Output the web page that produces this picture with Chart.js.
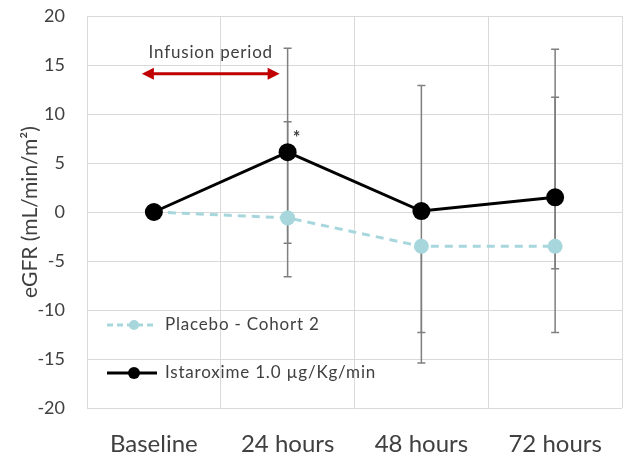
<!DOCTYPE html>
<html>
<head>
<meta charset="utf-8">
<script src="https://cdn.jsdelivr.net/npm/chart.js@4.4.1/dist/chart.umd.min.js"></script>
<style>
  html, body { margin: 0; padding: 0; background: #fff; }
  #wrap { width: 631px; height: 462px; }
</style>
</head>
<body>
<div id="wrap"><canvas id="egfr"></canvas></div>
<script>
const timepoints = ["Baseline", "24 hours", "48 hours", "72 hours"];

// mean change in eGFR
const placeboMean = [0, -0.6, -3.5, -3.5];
const istaroximeMean = [0, 6.1, 0.1, 1.5];

// error bar ends (null = no cap drawn on that side)
const placeboHigh = [null, 9.2, null, 11.7];
const placeboLow = [null, -6.6, -15.4, -5.8];
const istaroximeHigh = [null, 16.7, 12.9, 16.6];
const istaroximeLow = [null, -3.2, -12.3, -12.3];

const yTicks = { min: -20, max: 20, step: 5 };

const textColor = "#404040";
const placeboColor = "#a7d7dc";
const fontFamily = "Lato, 'Open Sans', sans-serif";

// whiskers drawn under the lines so the markers sit on top
const errorBars = {
  id: "errorBars",
  beforeDatasetsDraw(chart) {
    const { ctx, scales: { x, y } } = chart;
    const sets = [
      { hi: placeboHigh, lo: placeboLow, mean: placeboMean },
      { hi: istaroximeHigh, lo: istaroximeLow, mean: istaroximeMean },
    ];
    ctx.save();
    ctx.strokeStyle = "#7f7f7f";
    ctx.lineWidth = 1.5;
    sets.forEach((s) => {
      s.mean.forEach((m, i) => {
        const px = x.getPixelForValue(i);
        const py = y.getPixelForValue(m);
        [s.hi[i], s.lo[i]].forEach((v) => {
          if (v === null) return;
          const vy = y.getPixelForValue(v);
          ctx.beginPath();
          ctx.moveTo(px, py);
          ctx.lineTo(px, vy);
          ctx.moveTo(px - 4, vy);
          ctx.lineTo(px + 4, vy);
          ctx.stroke();
        });
      });
    });
    ctx.restore();
  },
};

// infusion arrow, asterisk and the in-plot legend
const extras = {
  id: "extras",
  afterDraw(chart) {
    const { ctx, scales: { x, y } } = chart;
    ctx.save();

    // infusion period double arrow
    const ay = y.getPixelForValue(14.1);
    const ax0 = x.getPixelForValue(0) - 12;
    const ax1 = x.getPixelForValue(1) - 8;
    ctx.strokeStyle = "#c00000";
    ctx.fillStyle = "#c00000";
    ctx.lineWidth = 3;
    ctx.beginPath();
    ctx.moveTo(ax0 + 8, ay);
    ctx.lineTo(ax1 - 8, ay);
    ctx.stroke();
    ctx.beginPath();
    ctx.moveTo(ax0, ay);
    ctx.lineTo(ax0 + 12, ay - 6);
    ctx.lineTo(ax0 + 12, ay + 6);
    ctx.closePath();
    ctx.fill();
    ctx.beginPath();
    ctx.moveTo(ax1, ay);
    ctx.lineTo(ax1 - 12, ay - 6);
    ctx.lineTo(ax1 - 12, ay + 6);
    ctx.closePath();
    ctx.fill();

    ctx.fillStyle = textColor;
    ctx.font = "17px " + fontFamily;
    ctx.letterSpacing = "0.8px";
    ctx.textAlign = "center";
    ctx.textBaseline = "middle";
    ctx.fillText("Infusion period", (ax0 + ax1) / 2, ay - 21);
    ctx.letterSpacing = "0px";

    // significance mark at 24 hours
    ctx.font = "bold 18px " + fontFamily;
    ctx.fillText("*", x.getPixelForValue(1) + 9, y.getPixelForValue(istaroximeMean[1]) - 14);

    // legend
    const lx = x.left + 20;
    const rows = [
      { label: "Placebo - Cohort 2", color: placeboColor, dash: [6, 4], r: 5, y: 325 },
      { label: "Istaroxime 1.0 \u00b5g/Kg/min", color: "#000", dash: [], r: 6, y: 373 },
    ];
    rows.forEach((row) => {
      ctx.strokeStyle = row.color;
      ctx.fillStyle = row.color;
      ctx.lineWidth = 3;
      ctx.setLineDash(row.dash);
      ctx.beginPath();
      ctx.moveTo(lx, row.y);
      ctx.lineTo(lx + 50, row.y);
      ctx.stroke();
      ctx.setLineDash([]);
      ctx.beginPath();
      ctx.arc(lx + 27, row.y, row.r, 0, Math.PI * 2);
      ctx.fill();
      ctx.fillStyle = textColor;
      ctx.font = "17px " + fontFamily;
      ctx.letterSpacing = "0.8px";
      ctx.textAlign = "left";
      ctx.fillText(row.label, lx + 58, row.y);
      ctx.letterSpacing = "0px";
    });
    ctx.restore();
  },
};

new Chart(document.getElementById("egfr"), {
  type: "line",
  data: {
    labels: timepoints,
    datasets: [
      {
        label: "Istaroxime 1.0 \u00b5g/Kg/min",
        data: istaroximeMean,
        borderColor: "#000",
        backgroundColor: "#000",
        borderWidth: 3,
        pointRadius: 9,
        pointBorderWidth: 0,
      },
      {
        label: "Placebo - Cohort 2",
        data: placeboMean,
        borderColor: placeboColor,
        backgroundColor: placeboColor,
        borderWidth: 3,
        borderDash: [8, 6],
        pointRadius: 7.5,
        pointBorderWidth: 0,
      },
    ],
  },
  options: {
    responsive: true,
    maintainAspectRatio: false,
    animation: false,
    layout: { padding: { top: 16, right: 1, left: 0, bottom: 0 } },
    plugins: { legend: { display: false }, tooltip: { enabled: false } },
    scales: {
      x: {
        offset: true,
        grid: { offset: true, color: "#d9d9d9", lineWidth: 1, drawTicks: false },
        border: { display: false },
        ticks: { color: textColor, font: { family: fontFamily, size: 24 }, padding: 22 },
        afterFit(scale) { scale.height = 54; },
      },
      y: {
        min: yTicks.min,
        max: yTicks.max,
        // invisible tick marks keep the labels off the plot edge
        grid: { color: "#d9d9d9", lineWidth: 1, drawTicks: true, tickLength: 22, tickColor: "rgba(0,0,0,0)" },
        border: { display: false },
        ticks: { stepSize: yTicks.step, color: textColor, font: { family: fontFamily, size: 18 }, padding: 0 },
        title: {
          display: true,
          text: "eGFR (mL/min/m\u00b2)",
          color: textColor,
          font: { family: fontFamily, size: 21 },
          padding: { top: 18, bottom: 0 },
        },
        afterFit(scale) { scale.width = 87; },
      },
    },
  },
  plugins: [errorBars, extras],
});
</script>
</body>
</html>
